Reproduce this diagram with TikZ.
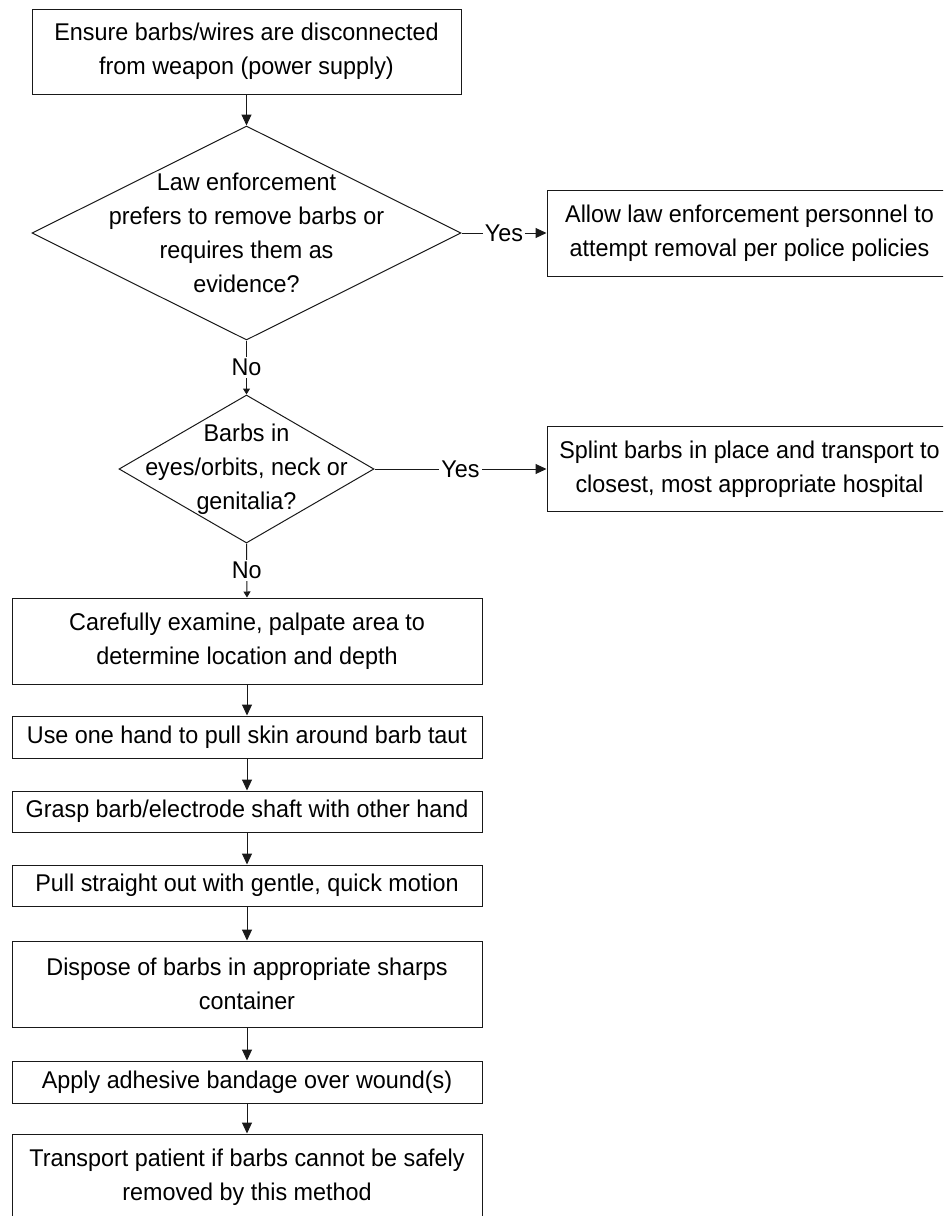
\documentclass[tikz,border=0pt]{standalone}
\usepackage{fontspec}
\setmainfont{Liberation Sans}[FakeStretch=0.965]
\usetikzlibrary{shapes.geometric,arrows.meta}

\begin{document}
\begin{tikzpicture}[x=1pt,y=-1pt,
  every node/.style={font=\fontsize{24.2}{34}\selectfont},
  box/.style={draw=black!90,line width=1pt,rectangle,align=center,inner sep=0pt},
  decision/.style={draw=black!90,line width=1pt,diamond,inner sep=0pt},
  qtext/.style={align=center,inner sep=0pt},
  line/.style={draw=black!90,line width=1pt},
  arr/.style={line,-{Triangle[length=11pt,width=10pt]}},
  sarr/.style={line,-{Triangle[length=6pt,width=7pt]}},
  lbl/.style={fill=white,inner sep=2pt}]
\useasboundingbox (0,0) rectangle (943,1216);
\clip (0,0) rectangle (943,1216);

\node[box,minimum width=429pt,minimum height=85pt] (ensure) at (246.5,51.5)
  {Ensure barbs/wires are disconnected\\from weapon (power supply)};
\node[decision,minimum width=429pt,minimum height=214pt] (law) at (246.5,233) {};
\node[qtext] (lawtxt) at (law)
  {Law enforcement\\prefers to remove barbs or\\requires them as\\evidence?};
\node[box,minimum width=405pt,minimum height=86pt] (allow) at (749.5,233)
  {Allow law enforcement personnel to\\attempt removal per police policies};
\node[decision,minimum width=255pt,minimum height=148pt] (zone) at (246.5,469) {};
\node[qtext] (zonetxt) at (zone)
  {Barbs in\\eyes/orbits, neck or\\genitalia?};
\node[box,minimum width=405pt,minimum height=85pt] (splint) at (749.5,469)
  {Splint barbs in place and transport to\\closest, most appropriate hospital};
\node[box,minimum width=470pt,minimum height=86pt] (exam) at (247,641)
  {Carefully examine, palpate area to\\determine location and depth};
\node[box,minimum width=470pt,minimum height=42pt] (taut) at (247,737)
  {Use one hand to pull skin around barb taut};
\node[box,minimum width=470pt,minimum height=41pt] (grasp) at (247,811.5)
  {Grasp barb/electrode shaft with other hand};
\node[box,minimum width=470pt,minimum height=41pt] (pull) at (247,885.5)
  {Pull straight out with gentle, quick motion};
\node[box,minimum width=470pt,minimum height=86pt] (dispose) at (247,984)
  {Dispose of barbs in appropriate sharps\\container};
\node[box,minimum width=470pt,minimum height=42pt] (bandage) at (247,1082)
  {Apply adhesive bandage over wound(s)};
\node[box,minimum width=470pt,minimum height=86pt] (transport) at (247,1177)
  {Transport patient if barbs cannot be safely\\removed by this method};

\draw[arr] (ensure) -- (law);
\draw[arr] (law.east) -- node[lbl] (yes1) {Yes} (allow.west);
\draw[sarr] (law.south) -- node[lbl] (no1) {No} (zone.north);
\draw[arr] (zone.east) -- node[lbl] (yes2) {Yes} (splint.west);
\draw[sarr] (zone.south) -- node[lbl] (no2) {No} (exam.north);
\draw[arr] (exam) -- (taut);
\draw[arr] (taut) -- (grasp);
\draw[arr] (grasp) -- (pull);
\draw[arr] (pull) -- (dispose);
\draw[arr] (dispose) -- (bandage);
\draw[arr] (bandage) -- (transport);

\end{tikzpicture}
\end{document}
